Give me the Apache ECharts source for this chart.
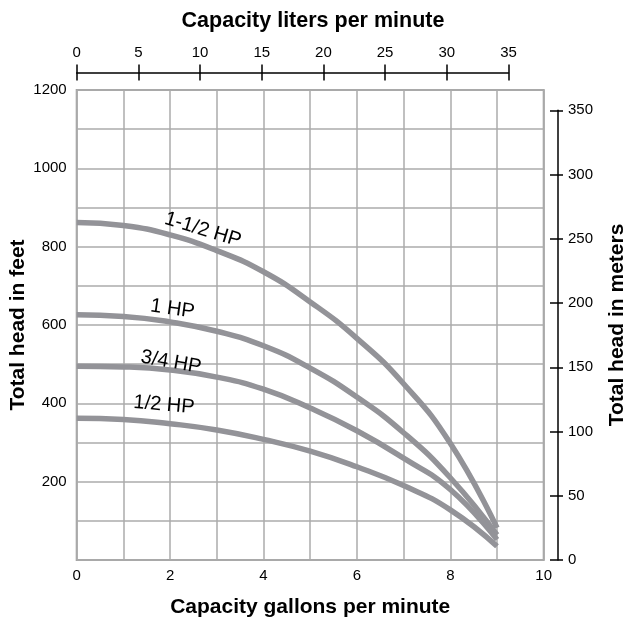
<!DOCTYPE html>
<html>
<head>
<meta charset="utf-8">
<script src="https://cdn.jsdelivr.net/npm/echarts@6/dist/echarts.min.js"></script>
<style>
html,body{margin:0;padding:0;background:#fff;}
#chart{width:626px;height:620px;}
</style>
</head>
<body>
<div id="chart"></div>
<script>
// Capacity in gallons per minute
const gpm = [0, 1, 2, 3, 4, 5, 6, 7, 8, 9];
// Total head in feet for each pump
const hp150 = [862, 854, 830, 790, 736, 659, 566, 450, 298, 82];
const hp100 = [626, 622, 608, 584, 547, 490, 416, 325, 210, 64];
const hp075 = [495, 493, 485, 467, 436, 388, 330, 260, 180, 52];
const hp050 = [362, 359, 348, 332, 308, 278, 238, 190, 128, 35];
const seriesNames = ['1-1/2 HP', '1 HP', '3/4 HP', '1/2 HP'];
const literTicks = [0, 5, 10, 15, 20, 25, 30, 35];
const meterTicks = [0, 50, 100, 150, 200, 250, 300, 350];

const FONT = 'Liberation Sans, Arial, Helvetica, sans-serif';
const curveColor = '#939398';

function pairs(ys) { return gpm.map((x, i) => [x, ys[i]]); }

const L = 76.7, R = 626 - 543.7, T = 90, B = 60;
const topAxisRight = 626 - (L + 35 / 3.785411784 * (467 / 10));
const meterTop = 560 - 350 / 0.3048 * (470 / 1200);

const labelCfg = [
  { coord: [2.70, 843], rotate: -17 },
  { coord: [2.05, 641], rotate: -8 },
  { coord: [2.02, 505], rotate: -10 },
  { coord: [1.87, 396], rotate: -5 }
];

const datasets = [hp150, hp100, hp075, hp050];

const chart = echarts.init(document.getElementById('chart'), null, { renderer: 'canvas' });

const hidden = { show: false };
const gridBase = { outerBoundsMode: 'none', containLabel: false };
const titleStyle = { fontFamily: FONT, fontSize: 21, fontWeight: 'bold', color: '#000' };

const option = {
  animation: false,
  backgroundColor: '#fff',
  title: {
    text: 'Capacity liters per minute',
    left: 'center',
    top: 5,
    textStyle: Object.assign({}, titleStyle, { fontSize: 21.5 })
  },
  grid: [
    Object.assign({ left: L, right: R, top: T, bottom: B, show: true, borderColor: '#a2a2a2', borderWidth: 2 }, gridBase),
    Object.assign({ left: L, right: topAxisRight, top: 72.5, height: 10 }, gridBase),
    Object.assign({ left: L, right: topAxisRight, top: 72.5, height: 10 }, gridBase),
    Object.assign({ left: L, right: 68, top: meterTop, bottom: B }, gridBase),
    Object.assign({ left: L, right: 68, top: meterTop, bottom: B }, gridBase)
  ],
  xAxis: [
    {
      gridIndex: 0, type: 'value', min: 0, max: 10, interval: 1,
      name: 'Capacity gallons per minute', nameLocation: 'middle', nameGap: 37, nameMoveOverlap: false,
      nameTextStyle: titleStyle,
      axisLine: { show: false, onZero: false }, axisTick: { show: false },
      axisLabel: {
        margin: 8, fontFamily: FONT, fontSize: 15, color: '#000',
        formatter: v => (v % 2 === 0 ? String(v) : '')
      },
      splitLine: { show: true, lineStyle: { color: '#ababab', width: 1.5 } }
    },
    {
      gridIndex: 1, type: 'value', position: 'top', min: literTicks[0], max: literTicks[literTicks.length - 1], interval: 5,
      axisLine: { show: true, onZero: false, lineStyle: { color: '#000', width: 1.5 } },
      axisTick: { show: true, length: 8, lineStyle: { color: '#000', width: 1.5 } },
      axisLabel: { margin: 12, fontFamily: FONT, fontSize: 15, color: '#000' },
      splitLine: hidden
    },
    {
      gridIndex: 2, type: 'value', position: 'top', min: literTicks[0], max: literTicks[literTicks.length - 1], interval: 5,
      axisLine: { show: false, onZero: false },
      axisTick: { show: true, inside: true, length: 8, lineStyle: { color: '#000', width: 1.5 } },
      axisLabel: hidden, splitLine: hidden
    },
    { gridIndex: 3, type: 'value', min: 0, max: 1, show: false },
    { gridIndex: 4, type: 'value', min: 0, max: 1, show: false }
  ],
  yAxis: [
    {
      gridIndex: 0, type: 'value', min: 0, max: 1200, interval: 100,
      name: 'Total head in feet', nameLocation: 'middle', nameGap: 48, nameMoveOverlap: false,
      nameTextStyle: titleStyle,
      axisLine: { show: false, onZero: false }, axisTick: { show: false },
      axisLabel: {
        margin: 10, fontFamily: FONT, fontSize: 15, color: '#000',
        formatter: v => (v > 0 && v % 200 === 0 ? String(v) : '')
      },
      splitLine: { show: true, lineStyle: { color: '#ababab', width: 1.5 } }
    },
    { gridIndex: 1, type: 'value', min: 0, max: 1, show: false },
    { gridIndex: 2, type: 'value', min: 0, max: 1, show: false },
    {
      gridIndex: 3, type: 'value', position: 'right', min: meterTicks[0], max: meterTicks[meterTicks.length - 1], interval: 50,
      axisLine: { show: true, onZero: false, lineStyle: { color: '#000', width: 1.5 } },
      axisTick: { show: true, length: 5, lineStyle: { color: '#000', width: 1.5 } },
      axisLabel: { margin: 10, fontFamily: FONT, fontSize: 15, color: '#000' },
      splitLine: hidden
    },
    {
      gridIndex: 4, type: 'value', position: 'right', min: meterTicks[0], max: meterTicks[meterTicks.length - 1], interval: 50,
      axisLine: { show: false, onZero: false },
      axisTick: { show: true, inside: true, length: 8, lineStyle: { color: '#000', width: 1.5 } },
      axisLabel: hidden, splitLine: hidden
    },
    {
      gridIndex: 0, type: 'value', position: 'right', min: 0, max: 1200,
      name: 'Total head in meters', nameLocation: 'middle', nameGap: 63, nameRotate: 90, nameMoveOverlap: false,
      nameTextStyle: titleStyle,
      axisLine: { show: false, onZero: false }, axisTick: hidden, axisLabel: hidden, splitLine: hidden
    }
  ],
  series: datasets.map((d, i) => ({
    name: seriesNames[i],
    type: 'line',
    xAxisIndex: 0, yAxisIndex: 0,
    data: pairs(d),
    smooth: 0.5,
    showSymbol: false,
    symbol: 'none',
    lineStyle: { color: curveColor, width: 5.5 },
    z: 3,
    markPoint: {
      symbol: 'circle', symbolSize: 1,
      itemStyle: { color: 'rgba(0,0,0,0)' },
      label: {
        show: true, position: 'inside', rotate: labelCfg[i].rotate,
        formatter: seriesNames[i], fontFamily: FONT, fontSize: 20, color: '#000'
      },
      data: [{ coord: labelCfg[i].coord }]
    }
  }))
};

chart.setOption(option);
</script>
</body>
</html>
